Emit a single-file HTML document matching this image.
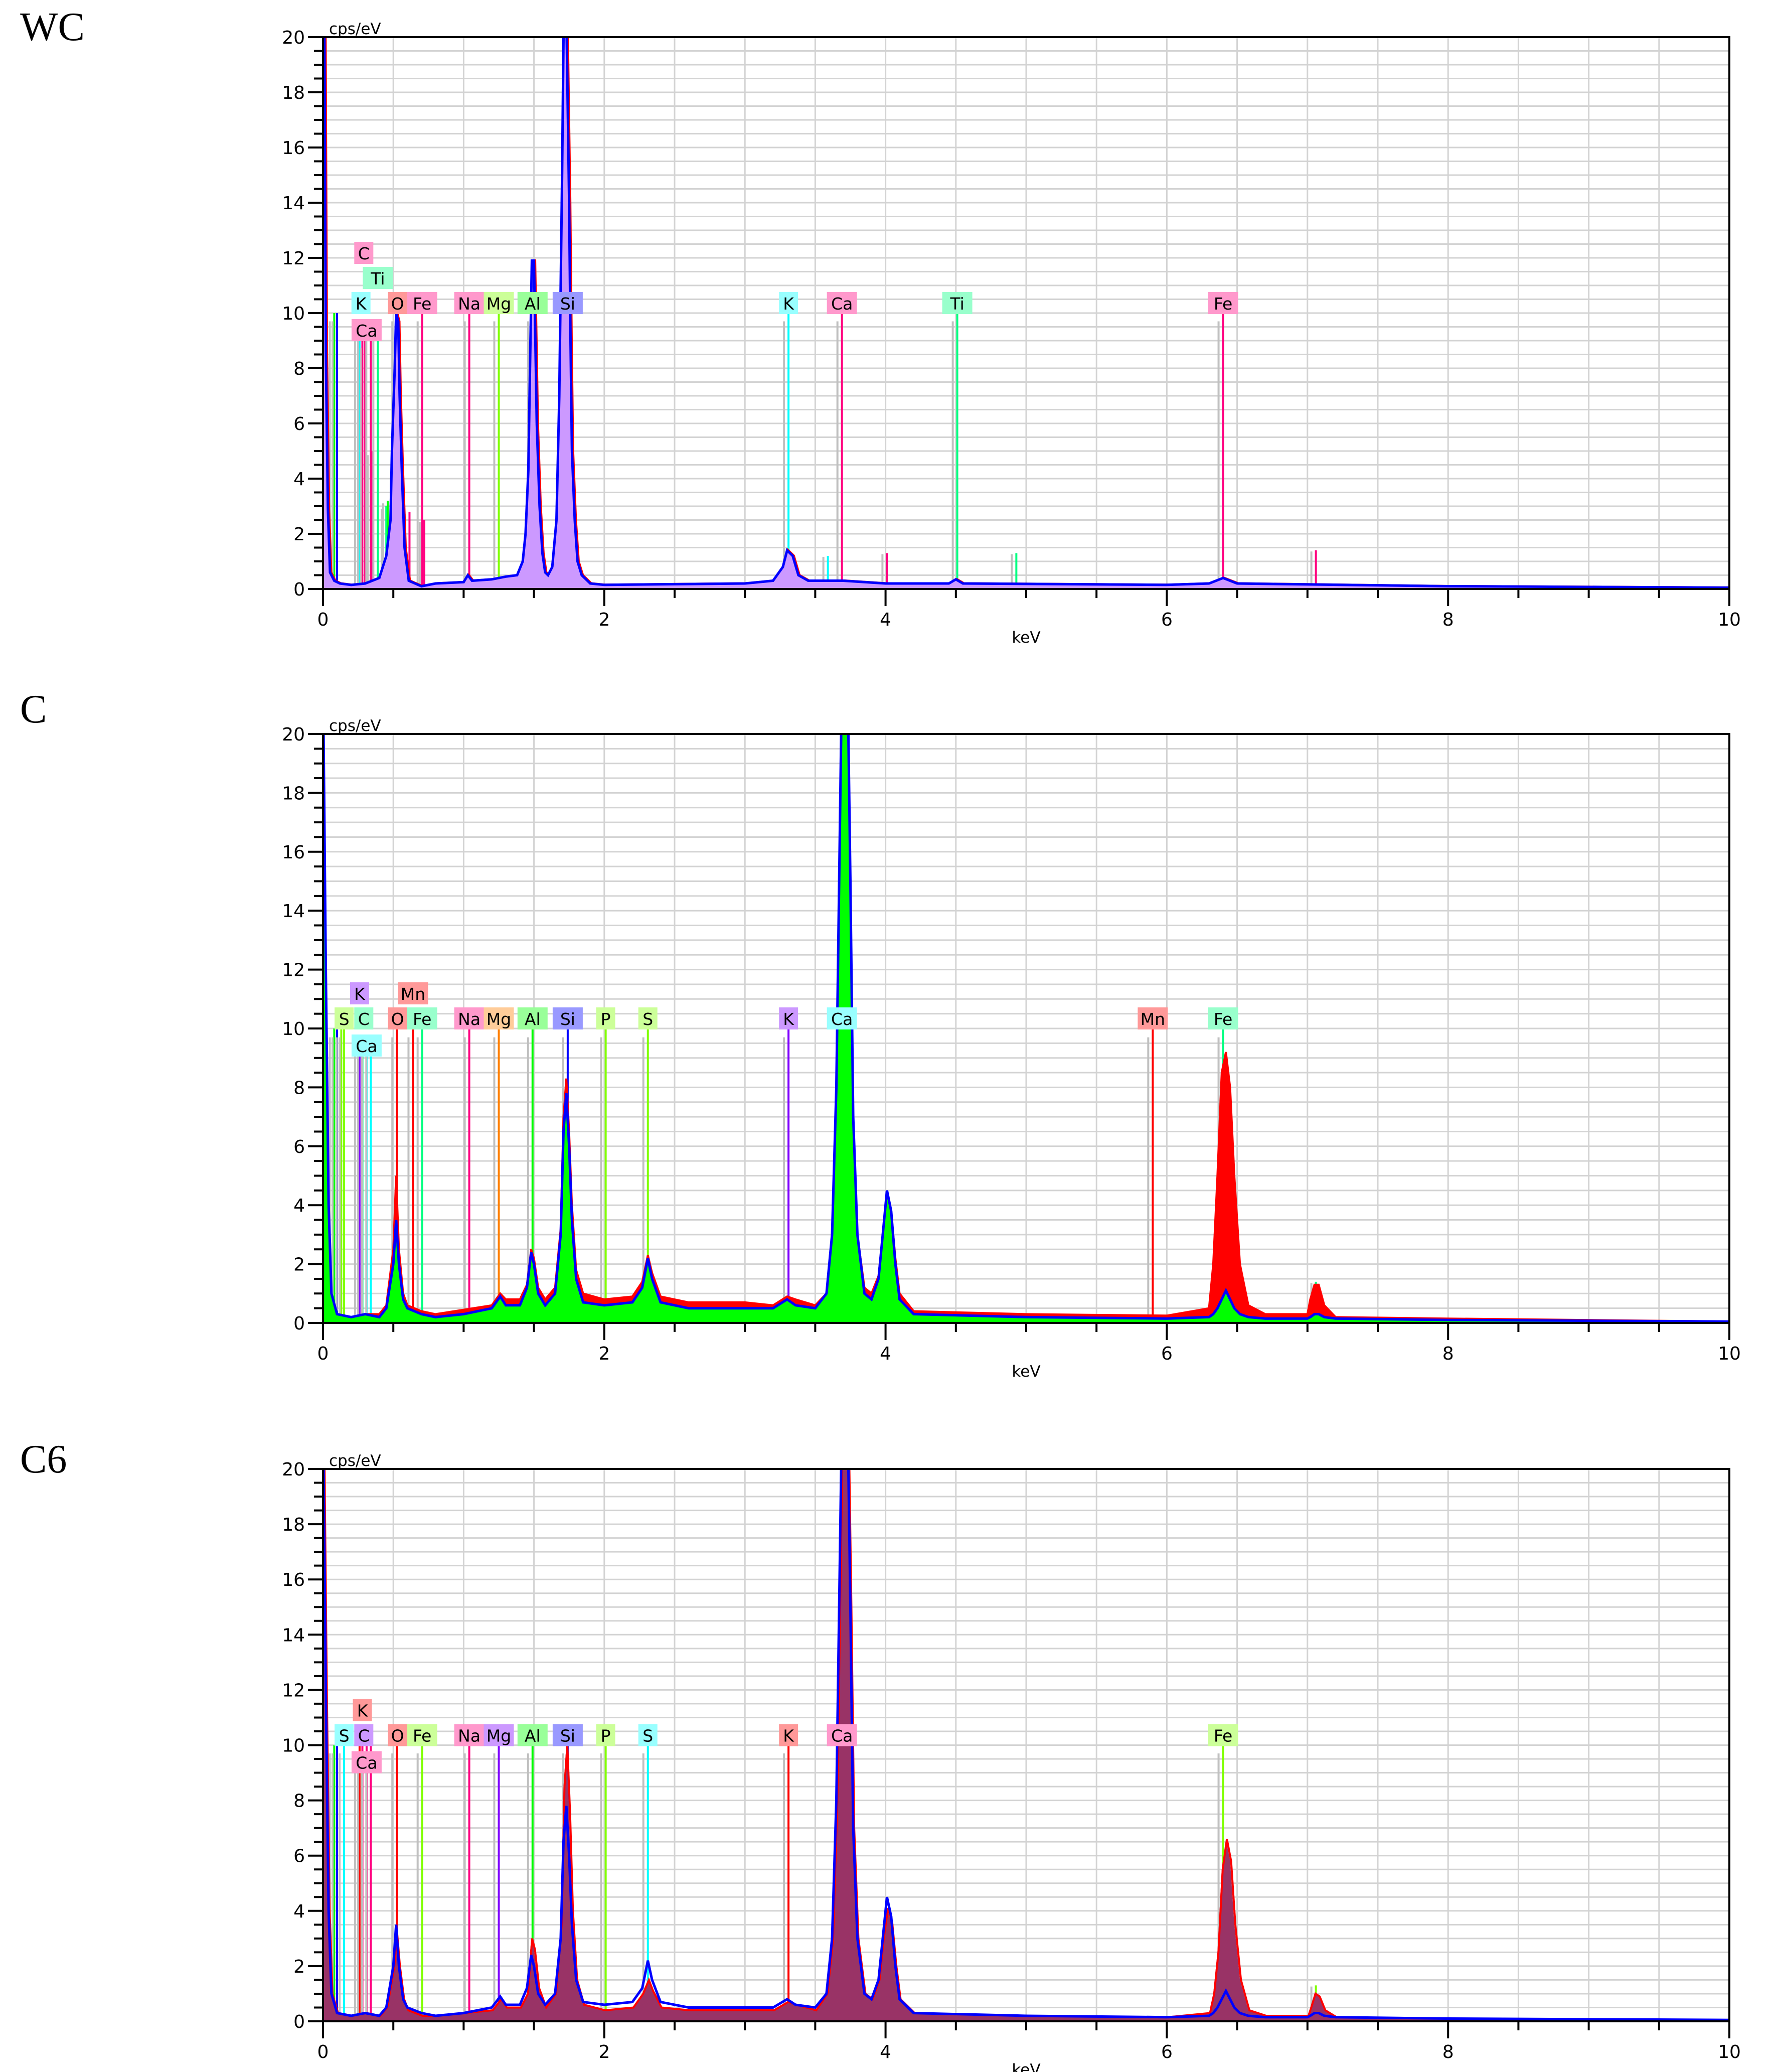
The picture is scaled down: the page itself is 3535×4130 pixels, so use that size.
<!DOCTYPE html>
<html><head><meta charset="utf-8">
<style>
html,body{margin:0;padding:0;background:#fff;}
svg{display:block;}
text{font-family:"DejaVu Sans","Liberation Sans",sans-serif;}
.title{font-family:"Liberation Serif",serif;}
</style></head>
<body>
<svg id="chart" width="3535" height="4130" viewBox="0 0 3535 4130" xmlns="http://www.w3.org/2000/svg"></svg>
<script>
// ---------- data ----------
const xTicks = [0,2,4,6,8,10];
const yTicks = [0,2,4,6,8,10,12,14,16,18,20];

// Panel WC
const wcE = [0,0.01,0.02,0.035,0.05,0.08,0.12,0.2,0.3,0.4,0.45,0.48,0.49,0.51,0.52,0.535,0.545,0.56,0.58,0.61,0.7,0.8,1.0,1.03,1.06,1.2,1.3,1.38,1.42,1.44,1.46,1.475,1.485,1.5,1.51,1.52,1.54,1.56,1.58,1.6,1.63,1.66,1.68,1.7,1.71,1.73,1.75,1.76,1.77,1.79,1.81,1.84,1.9,2.0,3.0,3.2,3.27,3.3,3.34,3.38,3.45,3.7,4.0,4.45,4.5,4.55,6.0,6.3,6.4,6.5,8,10];
const wcBlue = [22,20,8.6,2.9,0.6,0.3,0.2,0.15,0.2,0.4,1.2,2.5,5,8,10,9.7,7,4.4,1.5,0.3,0.1,0.2,0.25,0.5,0.3,0.35,0.45,0.5,1,2,4.3,9,11.9,11.9,9,6,3,1.3,0.6,0.5,0.8,2.5,7,15,20,21,14,9,5,2.5,1,0.5,0.2,0.15,0.2,0.3,0.8,1.4,1.2,0.5,0.3,0.3,0.2,0.2,0.35,0.2,0.15,0.2,0.4,0.2,0.1,0.05];
const wcMarkE = [0.08,0.1,0.26,0.28,0.3,0.34,0.35,0.39,0.45,0.46,0.525,0.615,0.705,0.72,1.04,1.25,1.49,1.56,1.74,3.31,3.59,3.69,4.01,4.51,4.93,6.40,7.06];
const wcMarkH = [10,10,9.5,9.5,9,9.5,5,9.5,3,3.2,10,2.8,10,2.5,10,10,10,0.4,10,10,1.2,10,1.3,10,1.3,10,1.4];
const wcMarkC = ['#00ff00','#0000ff','#00ffff','#ff0080','#ff0080','#ff0080','#ff0080','#00ff80','#00ff80','#00ff00','#ff0000','#ff0080','#ff0080','#ff0080','#ff0080','#80ff00','#00ff00','#00ff00','#0000ff','#00ffff','#00ffff','#ff0080','#ff0080','#00ff80','#00ff80','#ff0080','#ff0080'];
const wcLabT = ['C','Ti','K','O','Fe','Na','Mg','Al','Si','Ca','K','Ca','Ti','Fe'];
const wcLabE = [0.29,0.39,0.27,0.53,0.705,1.04,1.25,1.49,1.74,0.31,3.31,3.69,4.51,6.40];
const wcLabR = [3,2,1,1,1,1,1,1,1,0,1,1,1,1];
const wcLabC = ['#ff99cc','#99ffcc','#99ffff','#ff9999','#ff99cc','#ff99cc','#ccff99','#99ff99','#9999ff','#ff99cc','#99ffff','#ff99cc','#99ffcc','#ff99cc'];

// Panel C
const cE = [0,0.02,0.04,0.06,0.1,0.2,0.3,0.4,0.45,0.5,0.52,0.54,0.57,0.6,0.7,0.8,1.0,1.2,1.26,1.3,1.4,1.45,1.48,1.5,1.53,1.58,1.65,1.69,1.71,1.73,1.75,1.77,1.8,1.85,2.0,2.2,2.27,2.31,2.34,2.4,2.6,3.0,3.2,3.3,3.36,3.5,3.58,3.62,3.65,3.67,3.69,3.73,3.75,3.77,3.8,3.85,3.9,3.95,3.98,4.01,4.04,4.07,4.1,4.2,5.0,6.0,6.3,6.33,6.36,6.39,6.42,6.45,6.48,6.52,6.58,6.7,7.0,7.02,7.05,7.08,7.12,7.2,8.0,10];
const cGreen = [22,12,4,1,0.3,0.2,0.3,0.2,0.5,2,3.5,2,0.8,0.5,0.3,0.2,0.3,0.5,0.9,0.6,0.6,1.2,2.4,2,1,0.6,1,3,6.5,7.8,6,3.5,1.5,0.7,0.6,0.7,1.2,2.2,1.5,0.7,0.5,0.5,0.5,0.8,0.6,0.5,1,3,8,15,22,22,15,7,3,1,0.8,1.5,3,4.5,3.8,2,0.8,0.3,0.2,0.15,0.2,0.3,0.5,0.8,1.1,0.8,0.5,0.3,0.2,0.15,0.15,0.2,0.3,0.3,0.2,0.15,0.1,0.05];
const cRed = [22,12,4,1,0.3,0.2,0.3,0.3,0.6,2.5,5,2.5,1,0.6,0.4,0.3,0.45,0.6,1,0.8,0.8,1.3,2.5,2.2,1.2,0.8,1.2,3.2,7,8.3,6.5,4,1.8,1,0.8,0.9,1.4,2.3,1.7,0.9,0.7,0.7,0.6,0.9,0.8,0.6,1,3,8,15,22,22,15,7,3,1.2,1,1.6,3,4.3,3.8,2.2,1,0.4,0.3,0.25,0.5,2,5,8.5,9.2,8,5,2,0.6,0.3,0.3,0.8,1.3,1.3,0.6,0.2,0.15,0.05];
const cMarkE = [0.08,0.1,0.13,0.15,0.26,0.28,0.31,0.34,0.525,0.64,0.705,1.04,1.25,1.49,1.74,2.01,2.31,3.31,3.69,5.9,6.4,7.06];
const cMarkH = [10,10,10,10,9.5,9.5,9.5,9.5,10,10,10,10,10,10,10,10,10,10,10,10,10,1.4];
const cMarkC = ['#00ff00','#0000ff','#80ff00','#80ff00','#8000ff','#00ff80','#00ffff','#00ffff','#ff0000','#ff0000','#00ff80','#ff0080','#ff8000','#00ff00','#0000ff','#80ff00','#80ff00','#8000ff','#00ffff','#ff0000','#00ff80','#00ff80'];
const cLabT = ['S','C','K','Mn','O','Fe','Ca','Na','Mg','Al','Si','P','S','K','Ca','Mn','Fe'];
const cLabE = [0.15,0.29,0.26,0.64,0.53,0.705,0.31,1.04,1.25,1.49,1.74,2.01,2.31,3.31,3.69,5.9,6.4];
const cLabR = [1,1,2,2,1,1,0,1,1,1,1,1,1,1,1,1,1];
const cLabC = ['#ccff99','#99ffcc','#cc99ff','#ff9999','#ff9999','#99ffcc','#99ffff','#ff99cc','#ffcc99','#99ff99','#9999ff','#ccff99','#ccff99','#cc99ff','#99ffff','#ff9999','#99ffcc'];

// Panel C6
const c6Fill = [22,12,4,1,0.3,0.2,0.3,0.2,0.5,2,3.2,2,0.8,0.4,0.2,0.2,0.3,0.4,0.8,0.5,0.5,1,3,2.6,1.2,0.5,1,3.5,8.5,10,7.5,4,1.5,0.6,0.4,0.5,1,1.5,1.1,0.5,0.4,0.4,0.4,0.7,0.6,0.4,1,3,8,15,22,22,15,7,3,1,0.8,1.5,3,4.1,3.6,2,0.8,0.3,0.2,0.15,0.3,1,2.5,5.5,6.6,5.8,3.5,1.5,0.4,0.2,0.2,0.5,1,0.9,0.4,0.15,0.1,0.05];
const c6MarkE = [0.08,0.1,0.15,0.26,0.28,0.31,0.34,0.525,0.705,1.04,1.25,1.49,1.74,2.01,2.31,3.31,3.69,6.4,7.06];
const c6MarkH = [10,10,10,10,10,10,10,10,10,10,10,10,10,10,10,10,10,10,1.3];
const c6MarkC = ['#00ff00','#0000ff','#00ffff','#ff0000','#ff0080','#ff0080','#ff0080','#ff0000','#80ff00','#ff0080','#8000ff','#00ff00','#0000ff','#80ff00','#00ffff','#ff0000','#ff0080','#80ff00','#80ff00'];
const c6LabT = ['K','S','C','Ca','O','Fe','Na','Mg','Al','Si','P','S','K','Ca','Fe'];
const c6LabE = [0.28,0.15,0.29,0.31,0.53,0.705,1.04,1.25,1.49,1.74,2.01,2.31,3.31,3.69,6.4];
const c6LabR = [2,1,1,0,1,1,1,1,1,1,1,1,1,1,1];
const c6LabC = ['#ff9999','#99ffff','#cc99ff','#ff99cc','#ff9999','#ccff99','#ff99cc','#cc99ff','#99ff99','#9999ff','#ccff99','#99ffff','#ff9999','#ff99cc','#ccff99'];

// ---------- drawing ----------
const NS = 'http://www.w3.org/2000/svg';
const svg = document.getElementById('chart');
const X0 = 644, X1 = 3448;
function mk(tag, attrs, parent){
  const el = document.createElementNS(NS, tag);
  for (const k in attrs) el.setAttribute(k, attrs[k]);
  (parent||svg).appendChild(el);
  return el;
}

function drawPanel(p){
  const g = mk('g', {});
  
  
  const top = p.top, bot = p.top + p.h;
  const sx = v => X0 + v / 10 * (X1 - X0);
  const sy = v => bot - v / 20 * p.h;

  // title
  const t = mk('text', {x: 40, y: p.titleY, 'font-size': 80, class: 'title', fill: '#000'}, g);
  t.textContent = p.title;
  
  

  // grid
  const grid = mk('g', {stroke: '#d3d3d3', 'stroke-width': 3}, g);
  
  
  for (let i = 1; i < 40; i++) {
    const y = sy(i * 0.5);
    mk('line', {x1: X0, x2: X1, y1: y, y2: y}, grid);
  }
  for (let i = 1; i < 20; i++) {
    const x = sx(i * 0.5);
    mk('line', {x1: x, x2: x, y1: top, y2: bot}, grid);
  }

  // clip
  const cid = 'clip-' + p.id;
  const cp = mk('clipPath', {id: cid}, g);
  mk('rect', {x: X0, y: top, width: X1 - X0, height: p.h}, cp);
  const plot = mk('g', {'clip-path': 'url(#' + cid + ')'}, g);
  
  

  // marker lines (shadow + color)
  for (let i = 0; i < p.mE.length; i++) {
    const x = sx(p.mE[i]);
    const sh = mk('line', {x1: x - 9, x2: x - 9, y1: bot, y2: sy(p.mH[i]*0.97), stroke: '#c0c0c0', 'stroke-width': 4}, plot);
    
    
    const ln = mk('line', {x1: x, x2: x, y1: bot, y2: sy(p.mH[i]), stroke: p.mC[i], 'stroke-width': 4}, plot);
    
    
  }

  function pts(E, V, dx){
    return E.map((e, i) => (sx(e) + (dx||0)).toFixed(1) + ',' + sy(V[i]).toFixed(1)).join(' ');
  }
  function area(E, V, color){
    const a = mk('polygon', {points: sx(E[0]) + ',' + bot + ' ' + pts(E, V) + ' ' + sx(E[E.length-1]) + ',' + bot, fill: color, stroke: 'none'}, plot);
    return a;
  }
  p.series.forEach(s => {
    if (s.fill) {
      const a = area(s.E, s.V, s.fill);
      
      
    }
    if (s.stroke) {
      const l = mk('polyline', {points: pts(s.E, s.V, s.dx), fill: 'none', stroke: s.stroke, 'stroke-width': s.w || 5, 'stroke-linejoin': 'miter'}, plot);
      
      
    }
  });

  // element labels
  const y10 = sy(10);
  for (let i = 0; i < p.lT.length; i++) {
    const r = p.lR[i];
    const bottomY = r === 0 ? y10 + 56 : y10 + 2 - 50 * (r - 1);
    const w = p.lT[i].length > 1 ? 60 : 38;
    const cx = sx(p.lE[i]);
    const lg = mk('g', {}, plot);
    
    
    mk('rect', {x: cx - w/2, y: bottomY - 44, width: w, height: 44, fill: p.lC[i]}, lg);
    const tx = mk('text', {x: cx, y: bottomY - 9, 'font-size': 33, 'text-anchor': 'middle', fill: '#000'}, lg);
    tx.textContent = p.lT[i];
  }

  // frame
  const fr = mk('g', {stroke: '#000', 'stroke-width': 4, fill: 'none'}, g);
  
  
  mk('rect', {x: X0, y: top, width: X1 - X0, height: p.h}, fr);

  // y ticks
  const ya = mk('g', {}, g);
  
  
  for (let i = 0; i <= 40; i++) {
    const y = sy(i * 0.5);
    const major = i % 4 === 0;
    mk('line', {x1: X0 - (major ? 30 : 18), x2: X0, y1: y, y2: y, stroke: '#000', 'stroke-width': 4}, ya);
  }
  yTicks.forEach(v => {
    const tt = mk('text', {x: X0 - 36, y: sy(v) + 13, 'font-size': 36, 'text-anchor': 'end', fill: '#000'}, ya);
    tt.textContent = v;
  });
  const yl = mk('text', {x: X0 + 12, y: top - 6, 'font-size': 31, fill: '#000'}, g);
  yl.textContent = 'cps/eV';
  
  

  // x ticks
  const xa = mk('g', {}, g);
  
  
  for (let i = 0; i <= 20; i++) {
    const x = sx(i * 0.5);
    const len = (i % 4 === 0) ? 34 : 18;
    mk('line', {x1: x, x2: x, y1: bot, y2: bot + len, stroke: '#000', 'stroke-width': 4}, xa);
  }
  xTicks.forEach(v => {
    const tt = mk('text', {x: sx(v), y: bot + 73, 'font-size': 36, 'text-anchor': 'middle', fill: '#000'}, xa);
    tt.textContent = v;
  });
  const xl = mk('text', {x: 2046, y: bot + 107, 'font-size': 31, 'text-anchor': 'middle', fill: '#000'}, g);
  xl.textContent = 'keV';
  
  
}

drawPanel({id: 'wc', title: 'WC', titleY: 80, top: 74, h: 1100,
  series: [
    {name: 'spectrum-red', E: wcE, V: wcBlue, stroke: '#ff0000', dx: 2, w: 5},
    {name: 'spectrum-fill', E: wcE, V: wcBlue, fill: '#cc99ff'},
    {name: 'spectrum-blue', E: wcE, V: wcBlue, stroke: '#0000ff', w: 5}
  ],
  mE: wcMarkE, mH: wcMarkH, mC: wcMarkC, lT: wcLabT, lE: wcLabE, lR: wcLabR, lC: wcLabC});

drawPanel({id: 'c', title: 'C', titleY: 1440, top: 1463, h: 1174,
  series: [
    {name: 'spectrum-red', E: cE, V: cRed, fill: '#ff0000', stroke: '#ff0000', w: 4},
    {name: 'spectrum-green', E: cE, V: cGreen, fill: '#00ff00'},
    {name: 'spectrum-blue', E: cE, V: cGreen, stroke: '#0000ff', w: 5}
  ],
  mE: cMarkE, mH: cMarkH, mC: cMarkC, lT: cLabT, lE: cLabE, lR: cLabR, lC: cLabC});

drawPanel({id: 'c6', title: 'C6', titleY: 2935, top: 2928, h: 1101,
  series: [
    {name: 'spectrum-fill', E: cE, V: c6Fill, fill: '#993366'},
    {name: 'spectrum-red', E: cE, V: c6Fill, stroke: '#ff0000', dx: 2, w: 4},
    {name: 'spectrum-blue', E: cE, V: cGreen, stroke: '#0000ff', w: 5}
  ],
  mE: c6MarkE, mH: c6MarkH, mC: c6MarkC, lT: c6LabT, lE: c6LabE, lR: c6LabR, lC: c6LabC});
</script>
</body></html>
